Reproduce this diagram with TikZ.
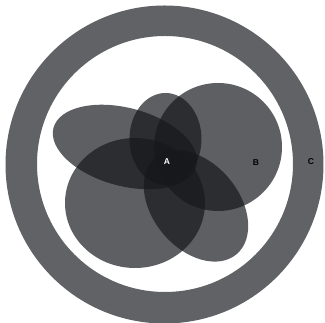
\documentclass[tikz,border=0pt]{standalone}
\usepackage{fontspec}
\setmainfont{Liberation Sans}
\definecolor{ringgray}{RGB}{96,98,102}
\definecolor{blobink}{RGB}{22,24,28}
\tikzset{
  blob/.style={fill=blobink,fill opacity=0.69,draw=none},
  lbl/.style={font=\bfseries\fontsize{8.5}{8.5}\selectfont,inner sep=0pt}
}
\begin{document}
\begin{tikzpicture}[x=1pt,y=1pt]
\useasboundingbox (0,0) rectangle (325,323);
\fill[white] (0,0) rectangle (325,323);
% ring
\fill[ringgray,even odd rule] (164.5,158.5) circle (159) (165,159) circle (128);
% overlapping shapes
\fill[blob,rotate around={-15:(125,176)}] (125,176) ellipse [x radius=74,y radius=39];
\fill[blob] (165.5,184) ellipse [x radius=36,y radius=46];
\fill[blob] (218,176) circle (64);
\fill[blob] (135,120) ellipse [x radius=70,y radius=65];
\fill[blob,rotate around={-50:(196,117)}] (196,117) ellipse [x radius=63,y radius=43];
% labels
\node[lbl,text=white] (a) at (167,161) {A};
\node[lbl,text=black] (b) at (256,160) {B};
\node[lbl,text=black] (c) at (311,161) {C};
\end{tikzpicture}
\end{document}
